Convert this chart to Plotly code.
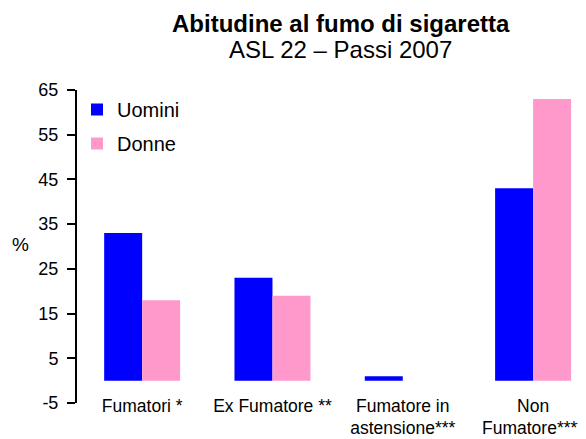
import plotly.graph_objects as go

categories = ['Fumatori *', 'Ex Fumatore **', 'Fumatore in<br>astensione***', 'Non<br>Fumatore****']
uomini = [33, 23, 1, 43]
donne = [18, 19, 0, 63]
y_ticks = [-5, 5, 15, 25, 35, 45, 55, 65]

font_family = 'Arial, Liberation Sans, sans-serif'

fig = go.Figure()
fig.add_trace(go.Bar(x=categories, y=uomini, name='Uomini', marker_color='#0000FF',
                     marker_line_width=0, legendgroup='u'))
fig.add_trace(go.Bar(x=categories, y=donne, name='Donne', marker_color='#FF99CC',
                     marker_line_width=0, legendgroup='d'))

# page body has an 8px margin, so the figure is sized a bit smaller
fig.update_layout(
    width=578, height=431,
    margin=dict(l=69, r=0, t=82, b=36),
    paper_bgcolor='white', plot_bgcolor='white',
    font=dict(family=font_family, color='black'),
    barmode='group', bargap=0.417, bargroupgap=0,
    legend=dict(x=0.0, y=1.0, xanchor='left', yanchor='top', bgcolor='rgba(0,0,0,0)',
                font=dict(size=20), traceorder='grouped', tracegroupgap=5),
    showlegend=True,
)

fig.update_xaxes(range=[-0.5, 3.406], showline=False, showgrid=False, zeroline=False,
                 ticks='', tickfont=dict(size=17.5), automargin=False, ticklabelstandoff=-10)
fig.update_yaxes(range=[-5, 65], tickvals=y_ticks, ticktext=[str(v) for v in y_ticks],
                 showline=True, linecolor='black', linewidth=2,
                 ticks='outside', ticklen=8, tickwidth=2, tickcolor='black',
                 showgrid=False, zeroline=False, tickfont=dict(size=18), automargin=False,
                 ticklabelstandoff=5)

# title lines
fig.add_annotation(text='<b>Abitudine al fumo di sigaretta</b>', xref='paper', yref='paper',
                   x=0.518, y=1.212, xanchor='center', yanchor='middle', showarrow=False,
                   font=dict(size=24))
fig.add_annotation(text='ASL 22 – Passi 2007', xref='paper', yref='paper',
                   x=0.518, y=1.130, xanchor='center', yanchor='middle', showarrow=False,
                   font=dict(size=24))

fig.add_annotation(text='%', xref='paper', yref='paper', x=-0.131, y=0.505,
                   showarrow=False, font=dict(size=19))

fig.write_html('out.html')
